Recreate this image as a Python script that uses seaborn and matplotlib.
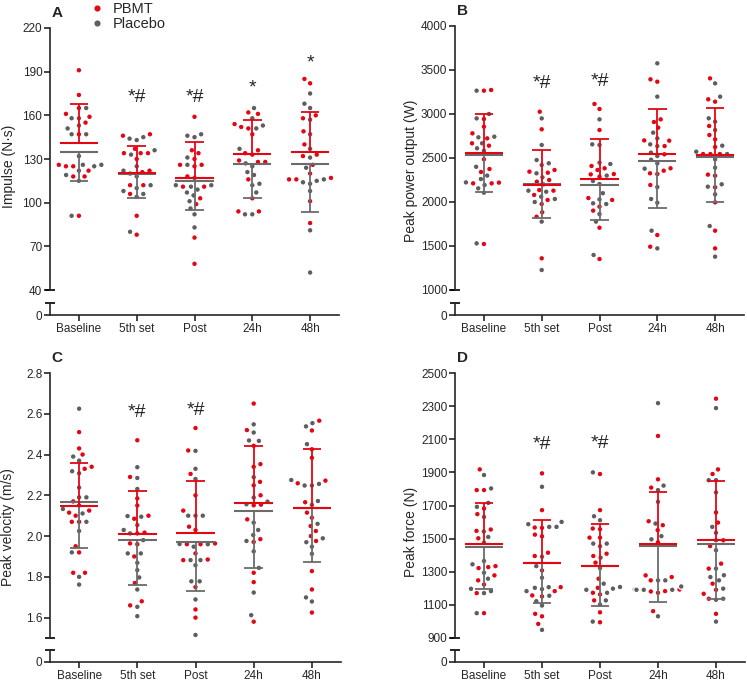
import numpy as np
import pandas as pd
import matplotlib.pyplot as plt
import seaborn as sns
from matplotlib.lines import Line2D

sns.set_style('ticks')
plt.rcParams['font.family'] = ['Liberation Sans', 'DejaVu Sans']

RED = '#e30613'
GREY = '#5e5e5e'
GREY_LINE = '#6b6b6b'

times = ['Baseline', '5th set', 'Post', '24h', '48h']

# A - impulse (N·s)
imp_pbmt = [[191, 174, 165, 161, 159, 155, 147, 126, 125, 125, 122, 118, 118, 91],
            [147, 146, 137, 134, 134, 134, 130, 122, 121, 112, 112, 106, 91, 78],
            [159, 136, 134, 130, 126, 126, 125, 118, 111, 111, 103, 99, 76, 58],
            [162, 161, 154, 152, 151, 147, 136, 134, 133, 129, 128, 128, 116, 103, 94, 94],
            [185, 182, 160, 158, 149, 140, 133, 132, 126, 120, 117, 116, 116, 101, 86]]
imp_plac = [[165, 158, 158, 153, 151, 147, 147, 132, 126, 126, 125, 122, 119, 115, 91],
            [145, 144, 143, 136, 133, 125, 122, 120, 118, 112, 110, 108, 106, 104, 80],
            [147, 146, 145, 131, 126, 117, 112, 112, 111, 109, 107, 105, 101, 96, 92, 83],
            [165, 158, 153, 151, 137, 127, 125, 121, 119, 113, 112, 107, 92, 92],
            [175, 168, 165, 157, 147, 137, 131, 124, 116, 115, 114, 113, 108, 81, 52]]
imp_pbmt_mean = [141, 120.5, 117, 133.7, 134.6]
imp_pbmt_sd = [27, 18.5, 25, 23, 28]
imp_plac_mean = [135, 119.5, 115, 126.3, 126.8]
imp_plac_sd = [20, 16, 20, 23, 33.4]
imp_marks = ['', '*#', '*#', '*', '*']
imp_mark_y = [0, 172, 172, 179, 196]

# B - peak power output (W)
pow_pbmt = [[3265, 3273, 2943, 2856, 2780, 2723, 2667, 2640, 2485, 2375, 2341, 2220, 2212, 2212, 1523],
            [3026, 2826, 2364, 2345, 2333, 2250, 2231, 2129, 2136, 2080, 2023, 1977, 1883, 1833, 1360],
            [3114, 3057, 2818, 2409, 2383, 2364, 2318, 2314, 2288, 2045, 2023, 1947, 1902, 1708, 1352],
            [3394, 3367, 2939, 2909, 2845, 2700, 2697, 2636, 2542, 2383, 2356, 2326, 2318, 2193, 1625, 1492],
            [3405, 3167, 3140, 2864, 2761, 2712, 2625, 2545, 2545, 2545, 2311, 2299, 2167, 1996, 1674, 1473]]
pow_plac = [[3265, 3000, 2950, 2742, 2735, 2667, 2610, 2583, 2400, 2300, 2261, 2223, 2193, 2155, 2106, 1530],
            [2950, 2648, 2477, 2440, 2420, 2326, 2280, 2200, 2129, 2117, 2060, 2034, 2000, 1777, 1227],
            [2939, 2655, 2648, 2447, 2432, 2300, 2239, 2204, 2100, 2030, 1985, 1977, 1863, 1777, 1398],
            [3576, 3197, 2788, 2723, 2655, 2636, 2561, 2523, 2480, 2439, 2379, 2170, 2034, 1992, 1674, 1473],
            [3348, 3197, 2951, 2913, 2818, 2640, 2572, 2545, 2485, 2390, 2201, 2174, 2087, 1727, 1379]]
pow_pbmt_mean = [2553, 2195, 2265, 2545, 2530]
pow_pbmt_sd = [447, 391, 447, 515, 542]
pow_plac_mean = [2530, 2200, 2190, 2466, 2515]
pow_plac_sd = [420, 382, 399, 534, 519]
pow_marks = ['', '*#', '*#', '', '']
pow_mark_y = [0, 3348, 3367, 0, 0]

# C - peak velocity (m/s)
vel_pbmt = [[2.51, 2.43, 2.40, 2.34, 2.33, 2.17, 2.15, 2.125, 2.115, 2.10, 2.07, 2.07, 1.95, 1.92, 1.82, 1.82],
            [2.47, 2.29, 2.185, 2.15, 2.10, 2.085, 2.013, 2.017, 1.96, 1.964, 1.90, 1.77, 1.68, 1.66],
            [2.53, 2.42, 2.305, 2.20, 2.125, 2.046, 2.03, 1.964, 1.96, 1.96, 1.915, 1.885, 1.882, 1.75, 1.64, 1.60],
            [2.65, 2.52, 2.443, 2.353, 2.34, 2.266, 2.249, 2.20, 2.154, 2.151, 2.082, 1.985, 1.971, 1.82, 1.774, 1.58],
            [2.566, 2.518, 2.426, 2.384, 2.272, 2.259, 2.166, 2.115, 2.09, 2.049, 2.025, 2.0, 1.976, 1.828, 1.738, 1.625]]
vel_plac = [[2.625, 2.39, 2.37, 2.318, 2.308, 2.238, 2.19, 2.19, 2.133, 2.111, 2.07, 2.025, 1.92, 1.80, 1.762],
            [2.338, 2.285, 2.231, 2.098, 2.095, 2.054, 2.03, 2.013, 1.98, 1.915, 1.915, 1.869, 1.833, 1.797, 1.738, 1.653, 1.607],
            [2.418, 2.33, 2.28, 2.10, 2.10, 2.10, 1.961, 1.96, 1.948, 1.882, 1.882, 1.857, 1.778, 1.778, 1.689, 1.515],
            [2.548, 2.508, 2.469, 2.467, 2.289, 2.189, 2.169, 2.156, 2.066, 2.03, 2.005, 1.976, 1.925, 1.844, 1.723, 1.612],
            [2.554, 2.538, 2.451, 2.275, 2.256, 2.248, 2.248, 2.172, 2.153, 2.06, 1.989, 1.97, 1.948, 1.913, 1.699, 1.679]]
vel_pbmt_mean = [2.15, 2.01, 2.015, 2.16, 2.14]
vel_pbmt_sd = [0.207, 0.213, 0.255, 0.283, 0.286]
vel_plac_mean = [2.165, 1.98, 1.97, 2.125, 2.14]
vel_plac_sd = [0.225, 0.22, 0.24, 0.28, 0.265]
vel_marks = ['', '*#', '*#', '', '']
vel_mark_y = [0, 2.607, 2.616, 0, 0]

# D - peak force (N)
frc_pbmt = [[1918, 1793, 1793, 1682, 1648, 1555, 1547, 1502, 1334, 1328, 1322, 1278, 1248, 1223, 1171, 1050],
            [1894, 1672, 1567, 1565, 1514, 1524, 1415, 1395, 1308, 1207, 1183, 1157, 1151, 1046, 1031, 985],
            [1890, 1672, 1561, 1557, 1506, 1506, 1409, 1395, 1355, 1258, 1203, 1173, 1163, 1127, 1055, 995],
            [2120, 1858, 1808, 1605, 1581, 1551, 1478, 1278, 1268, 1248, 1193, 1183, 1181, 1173, 1062],
            [2345, 1918, 1890, 1658, 1597, 1490, 1455, 1349, 1319, 1228, 1191, 1167, 1137, 1046]]
frc_plac = [[1884, 1803, 1716, 1692, 1631, 1543, 1510, 1476, 1365, 1345, 1294, 1258, 1197, 1183, 1171, 1050],
            [1813, 1601, 1587, 1571, 1571, 1391, 1334, 1264, 1207, 1203, 1195, 1183, 1155, 1122, 1096, 949],
            [1900, 1635, 1611, 1470, 1470, 1454, 1385, 1322, 1228, 1208, 1198, 1191, 1173, 1127, 1102, 999],
            [2318, 1820, 1793, 1722, 1591, 1515, 1496, 1248, 1248, 1211, 1193, 1191, 1191, 1191, 1031],
            [2288, 1853, 1853, 1779, 1571, 1535, 1490, 1430, 1319, 1279, 1268, 1248, 1198, 1137, 1131, 999]]
frc_pbmt_mean = [1465, 1352, 1335, 1468, 1490]
frc_pbmt_sd = [253, 260, 255, 312, 360]
frc_plac_mean = [1450, 1352, 1332, 1455, 1465]
frc_plac_sd = [255, 240, 238, 335, 330]
frc_marks = ['', '*#', '*#', '', '']
frc_mark_y = [0, 2070, 2076, 0, 0]

W, H = 747, 682
fig = plt.figure(figsize=(W / 100, H / 100), dpi=100)


def long_df(pbmt, plac):
    rows = []
    for t, vals in zip(times, pbmt):
        rows += [(t, v, 'PBMT') for v in vals]
    for t, vals in zip(times, plac):
        rows += [(t, v, 'Placebo') for v in vals]
    return pd.DataFrame(rows, columns=['time', 'value', 'group'])


def px_rect(left, right, top, bottom):
    return [left / W, 1 - bottom / H, (right - left) / W, (bottom - top) / H]


def cap(ax, y):
    ax.plot([0], [y], transform=ax.transAxes, marker='_', ms=6.5, mew=1.2,
            color='black', clip_on=False)


def draw_panel(left, right, top, brk, bbrk, zero, pbmt, plac, pm, ps, qm, qs,
               ylim, yticks, ylabels, ylabel, lab_xy, letter, marks, mark_y):
    ax = fig.add_axes(px_rect(left, right, top, brk))
    axb = fig.add_axes(px_rect(left, right, bbrk, zero))

    df = long_df(pbmt, plac)
    sns.swarmplot(data=df, x='time', y='value', hue='group', order=times,
                  hue_order=['PBMT', 'Placebo'],
                  palette={'PBMT': RED, 'Placebo': GREY},
                  size=4.1, linewidth=0.9, edgecolor='white',
                  legend=False, ax=ax, zorder=2)

    x = np.arange(len(times))
    for means, sds, col, sgn in [(qm, qs, GREY_LINE, -1), (pm, ps, RED, 1)]:
        m = np.array(means, dtype=float)
        end = m + sgn * np.array(sds, dtype=float)
        ax.hlines(m, x - 0.33, x + 0.33, color=col, lw=1.5, zorder=3)
        ax.vlines(x, m, end, color=col, lw=1.3, zorder=3)
        ax.hlines(end, x - 0.16, x + 0.16, color=col, lw=1.3, zorder=3)

    for i, (lab, yv) in enumerate(zip(marks, mark_y)):
        if lab:
            ax.text(i, yv, lab, ha='center', va='center', fontsize=14)

    ax.set_xlim(-0.5, 4.5)
    ax.set_ylim(*ylim)
    ax.set_yticks(yticks, ylabels)
    ax.set_xticks([])
    ax.set_xlabel('')
    ax.set_ylabel(ylabel, fontsize=10, va='center')
    ax.yaxis.set_label_coords(*lab_xy)
    for s in ['top', 'right', 'bottom']:
        ax.spines[s].set_visible(False)
    ax.spines['left'].set_linewidth(1.2)
    ax.tick_params(axis='y', length=4, width=1.2, labelsize=8.5, pad=1.5)
    ax.patch.set_alpha(0)
    cap(ax, 0)

    axb.set_xlim(-0.5, 4.5)
    axb.set_ylim(0, 1)
    axb.set_yticks([0], ['0'])
    axb.set_xticks(x, times)
    for s in ['top', 'right']:
        axb.spines[s].set_visible(False)
    for s in ['left', 'bottom']:
        axb.spines[s].set_linewidth(1.2)
    axb.tick_params(length=4, width=1.2, labelsize=8.5, pad=2)
    axb.patch.set_alpha(0)
    cap(axb, 1)

    fig.text((left + 7) / W, 1 - (top - 15) / H, letter, fontsize=11,
             fontweight='bold', ha='center', va='center')
    return ax


draw_panel(50, 339, 28, 290, 302.5, 315, imp_pbmt, imp_plac,
           imp_pbmt_mean, imp_pbmt_sd, imp_plac_mean, imp_plac_sd,
           (40, 220), [40, 70, 100, 130, 160, 190, 220],
           ['40', '70', '100', '130', '160', '190', '220'],
           'Impulse (N·s)', (-0.142, 0.47), 'A', imp_marks, imp_mark_y)

draw_panel(455, 744, 26, 290, 302.5, 315, pow_pbmt, pow_plac,
           pow_pbmt_mean, pow_pbmt_sd, pow_plac_mean, pow_plac_sd,
           (1000, 4000), [1000, 1500, 2000, 2500, 3000, 3500, 4000],
           ['1000', '1500', '2000', '2500', '3000', '3500', '4000'],
           'Peak power output (W)', (-0.152, 0.45), 'B', pow_marks, pow_mark_y)

draw_panel(50, 341, 373, 638, 649.5, 662, vel_pbmt, vel_plac,
           vel_pbmt_mean, vel_pbmt_sd, vel_plac_mean, vel_plac_sd,
           (1.5, 2.8), [1.6, 1.8, 2.0, 2.2, 2.4, 2.6, 2.8],
           ['1.6', '1.8', '2.0', '2.2', '2.4', '2.6', '2.8'],
           'Peak velocity (m/s)', (-0.143, 0.42), 'C', vel_marks, vel_mark_y)

draw_panel(455, 745, 373, 638, 649.5, 662, frc_pbmt, frc_plac,
           frc_pbmt_mean, frc_pbmt_sd, frc_plac_mean, frc_plac_sd,
           (900, 2500), [900, 1100, 1300, 1500, 1700, 1900, 2100, 2300, 2500],
           ['900', '1100', '1300', '1500', '1700', '1900', '2100', '2300', '2500'],
           'Peak force (N)', (-0.152, 0.40), 'D', frc_marks, frc_mark_y)

handles = [Line2D([], [], ls='', marker='o', ms=3.4, color=RED),
           Line2D([], [], ls='', marker='o', ms=3.4, color=GREY)]
fig.legend(handles, ['PBMT', 'Placebo'], loc='upper left',
           bbox_to_anchor=(89.5 / W, 0.997), frameon=False, fontsize=10.5,
           handlelength=1.0, handletextpad=0.6, labelspacing=0.05,
           borderpad=0, borderaxespad=0)

fig.savefig('out.png', dpi=100)
